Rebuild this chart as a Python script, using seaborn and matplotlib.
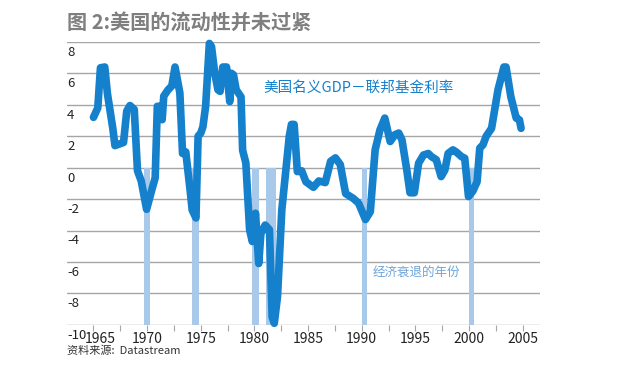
import numpy as np
import pandas as pd
import seaborn as sns
import matplotlib.pyplot as plt
import matplotlib.transforms as mtransforms

# ------------------- DATA -------------------

years = [1965.0, 1965.4, 1965.65, 1966.05, 1966.3, 1966.8, 1967.0, 1967.8, 1968.1, 1968.4,
         1968.8, 1969.1, 1969.45, 1969.95, 1970.4, 1970.75, 1970.95, 1971.2, 1971.4, 1971.55,
         1971.95, 1972.3, 1972.6, 1973.05, 1973.3, 1973.6, 1974.0, 1974.2, 1974.55, 1974.75,
         1975.0, 1975.2, 1975.45, 1975.8, 1976.0, 1976.3, 1976.6, 1976.8, 1977.05, 1977.4,
         1977.7, 1977.85, 1978.05, 1978.3, 1978.75, 1978.9, 1979.2, 1979.55, 1979.8, 1980.1,
         1980.4, 1980.6, 1981.0, 1981.4, 1981.65, 1981.85, 1982.15, 1982.55, 1982.9, 1983.25,
         1983.45, 1983.7, 1984.0, 1984.4, 1984.8, 1985.5, 1986.0, 1986.6, 1987.1, 1987.55,
         1988.0, 1988.5, 1989.2, 1989.7, 1990.35, 1990.8, 1991.25, 1991.7, 1992.15, 1992.65,
         1993.1, 1993.45, 1993.75, 1994.2, 1994.5, 1994.9, 1995.3, 1995.75, 1996.2, 1996.5,
         1996.95, 1997.4, 1997.75, 1998.05, 1998.5, 1998.8, 1999.3, 1999.6, 1999.95, 2000.35,
         2000.75, 2001.0, 2001.3, 2001.6, 2002.1, 2002.7, 2003.25, 2003.45, 2003.9, 2004.4,
         2004.7, 2004.85]
spread = [3.2, 3.8, 6.35, 6.4, 4.7, 2.5, 1.4, 1.6, 3.6, 3.95,
          3.7, -0.2, -0.85, -2.65, -1.5, -0.65, 3.9, 3.9, 3.05, 4.55,
          4.95, 5.2, 6.4, 4.75, 0.9, 1.0, -1.4, -2.7, -3.2, 2.0,
          2.2, 2.6, 3.9, 7.9, 7.7, 6.0, 4.95, 4.85, 6.4, 6.4,
          4.2, 6.0, 5.9, 4.95, 4.5, 1.1, 0.3, -3.95, -4.7, -2.9,
          -6.1, -4.2, -3.65, -3.95, -9.5, -9.9, -8.2, -2.7, -0.35, 2.0,
          2.75, 2.75, -0.25, -0.2, -0.9, -1.25, -0.85, -0.95, 0.4, 0.62,
          0.2, -1.65, -1.95, -2.25, -3.3, -2.8, 1.13, 2.4, 3.15, 1.66,
          2.1, 2.2, 1.77, -0.15, -1.6, -1.6, 0.28, 0.8, 0.9, 0.7,
          0.5, -0.57, -0.15, 0.9, 1.13, 1.0, 0.7, 0.6, -1.84, -1.5,
          -0.9, 1.24, 1.45, 2.0, 2.5, 4.95, 6.4, 6.4, 4.5, 3.15,
          3.04, 2.5]

# recession bars (start, end) as drawn in the chart
rec_start = [1969.75, 1974.2, 1979.8, 1981.1, 1990.0, 2000.0]
rec_end = [1970.3, 1974.8, 1980.4, 1982.0, 1990.5, 2000.5]

y_ticks = [8, 6, 4, 2, 0, -2, -4, -6, -8, -10]
x_labels = [1965, 1970, 1975, 1980, 1985, 1990, 1995, 2000, 2005]

df = pd.DataFrame({"year": years, "spread": spread})

# ------------------- STYLE -------------------

sns.set_theme(style="white")
plt.rcParams['font.family'] = ['Noto Sans CJK SC', 'DejaVu Sans']

line_blue = "#1580cc"
bar_blue = "#a9c9ea"
grid_gray = "#a6a6a6"

fig = plt.figure(figsize=(6.4, 3.84), dpi=100)
ax = fig.add_axes([0.105, 0.154, 0.739, 0.737])

# ------------------- PLOT -------------------

for s, e in zip(rec_start, rec_end):
    ax.bar((s + e) / 2, -10, width=e - s, bottom=0, color=bar_blue, zorder=1, linewidth=0)

for v in y_ticks:
    ax.axhline(v, color=grid_gray, lw=1.0, zorder=0.5)

sns.lineplot(data=df, x="year", y="spread", ax=ax, color=line_blue, lw=5.5,
             estimator=None, zorder=3, solid_joinstyle="round", solid_capstyle="round",
             clip_on=False)

ax.set_xlim(1962.55, 2006.63)
ax.set_ylim(-10, 8)
for sp in ax.spines.values():
    sp.set_visible(False)

ax.set_xticks(x_labels)
ax.set_xticklabels([str(y) for y in x_labels], fontsize=10, color="#222222")
ax.set_xticks([y + 2.5 for y in x_labels[:-1]], minor=True)
ax.tick_params(axis="x", which="both", direction="out", length=4, width=0.8,
               color=grid_gray, pad=1, bottom=True)
# first year label is nudged right, clear of the "-10"
first = ax.get_xticklabels()[0]
first.set_transform(first.get_transform() + mtransforms.ScaledTranslation(7 / 100, 0, fig.dpi_scale_trans))
ax.set_yticks([])
ax.set_xlabel("")
ax.set_ylabel("")

# y labels sit just under each gridline, at the left edge
trans = mtransforms.blended_transform_factory(ax.transAxes, ax.transData)
for v in y_ticks:
    ax.text(0.0, v - 0.25, str(v), transform=trans, ha="left", va="top",
            fontsize=9.5, color="#222222")

ax.text(1980.85, 5.07, "美国名义GDP－联邦基金利率", fontsize=10.5, color=line_blue,
        ha="left", va="center", fontweight="medium")
ax.text(1991.0, -6.7, "经济衰退的年份", fontsize=9, color="#6fa4d8",
        ha="left", va="center")

fig.text(0.105, 0.943, "图 2:美国的流动性并未过紧", fontsize=14.5, color="#7f7f7f",
         fontweight="bold", ha="left", va="center")
fig.text(0.105, 0.086, "资料来源:  Datastream", fontsize=8, color="#333333",
         ha="left", va="center")

fig.savefig("out.png", dpi=100)
